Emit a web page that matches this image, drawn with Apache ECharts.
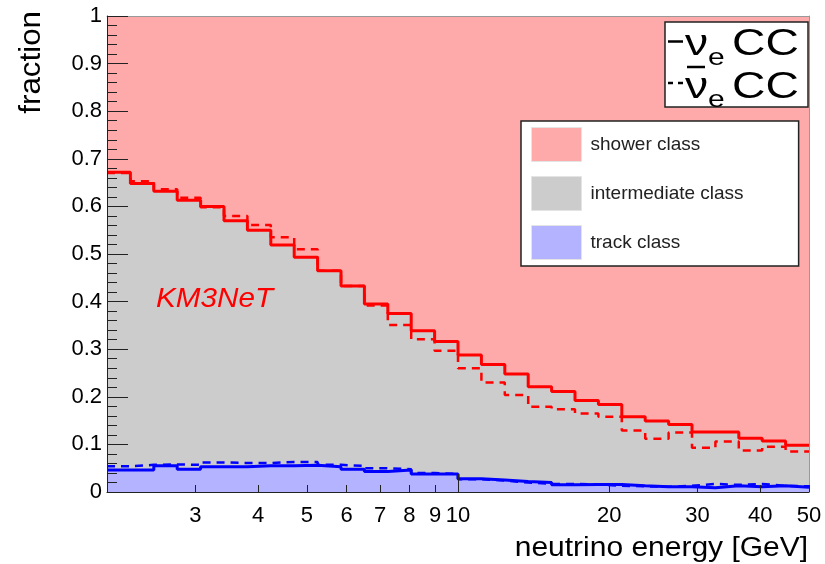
<!DOCTYPE html>
<html><head><meta charset="utf-8">
<script src="https://cdn.jsdelivr.net/npm/echarts@6/dist/echarts.min.js"></script>
<style>html,body{margin:0;padding:0;background:#fff}#c{width:825px;height:564px}</style>
</head><body><div id="c"></div>
<script>
// ---- data (30 log-spaced energy bins from 2 to 50 GeV) ----
const E_MIN = 2, E_MAX = 50, N_BINS = 30;
// nu_e CC: upper edge of intermediate class (= track + intermediate fraction)
const nueTop = [0.672, 0.648, 0.632, 0.613, 0.600, 0.570, 0.550, 0.519, 0.493, 0.465,
                0.433, 0.395, 0.375, 0.339, 0.316, 0.288, 0.268, 0.248, 0.221, 0.211,
                0.192, 0.184, 0.158, 0.149, 0.142, 0.126, 0.126, 0.113, 0.107, 0.098];
// anti-nu_e CC: same quantity (dashed)
const nuebarTop = [0.670, 0.653, 0.636, 0.618, 0.598, 0.580, 0.561, 0.535, 0.510, 0.465,
                   0.433, 0.392, 0.351, 0.321, 0.297, 0.260, 0.230, 0.204, 0.179, 0.174,
                   0.165, 0.158, 0.129, 0.112, 0.125, 0.093, 0.106, 0.087, 0.095, 0.085];
// nu_e CC: track class fraction
const nueTrack = [0.046, 0.046, 0.055, 0.048, 0.053, 0.053, 0.055, 0.055, 0.056, 0.053,
                  0.048, 0.043, 0.046, 0.038, 0.038, 0.028, 0.025, 0.022, 0.020, 0.015,
                  0.016, 0.016, 0.013, 0.011, 0.011, 0.009, 0.013, 0.011, 0.013, 0.010];
// anti-nu_e CC: track class fraction (dashed)
const nuebarTrack = [0.054, 0.057, 0.058, 0.057, 0.062, 0.061, 0.061, 0.063, 0.063, 0.057,
                     0.055, 0.050, 0.048, 0.040, 0.038, 0.027, 0.024, 0.020, 0.017, 0.017,
                     0.016, 0.013, 0.012, 0.011, 0.013, 0.017, 0.015, 0.017, 0.013, 0.012];
const xTickLabels = [3, 4, 5, 6, 7, 8, 9, 10, 20, 30, 40, 50];
const xTicksShort = [3, 4, 5, 6, 7, 8, 9, 20, 30, 40, 50];
const xTicksLong = [10];
const classNames = ['shower class', 'intermediate class', 'track class'];
const classColors = ['#ffaaaa', '#cccccc', '#b3b3ff'];

// ---- build ----
const lg = Math.log10;
const edges = [];
for (let i = 0; i <= N_BINS; i++) edges.push(lg(E_MIN) + i * (lg(E_MAX) - lg(E_MIN)) / N_BINS);
function hist(vals) {
  const d = vals.map((v, i) => [edges[i], v]);
  d.push([edges[N_BINS], vals[N_BINS - 1]]);
  return d;
}

const FONT = 'Liberation Sans, Arial, sans-serif';
const base = { type: 'line', step: 'end', symbol: 'none', silent: true, emphasis: { disabled: true } };

function txt(text, x, y, size, extra) {
  return Object.assign({
    type: 'text', x: x, y: y, z: 100,
    style: Object.assign({ text: text, fontSize: size, fontFamily: FONT, fill: '#000',
      align: 'left', verticalAlign: 'middle', textAlign: 'left', textVerticalAlign: 'middle' }, extra && extra.style)
  }, extra && extra.el);
}
function seg(x1, x2, y) {
  return { type: 'line', z: 100, shape: { x1: x1, y1: y, x2: x2, y2: y }, style: { stroke: '#000', lineWidth: 2.5 } };
}
const SX = 1.25;

const chart = echarts.init(document.getElementById('c'), null, { renderer: 'canvas' });
chart.setOption({
  animation: false,
  textStyle: { fontFamily: FONT },
  grid: { left: 107, right: 16, top: 16, bottom: 72, show: true, backgroundColor: classColors[0], borderWidth: 0 },
  xAxis: [
    { type: 'value', min: lg(E_MIN), max: lg(E_MAX), position: 'bottom', z: 10,
      axisLine: { show: true, onZero: false, lineStyle: { color: '#222', width: 1 } },
      axisTick: { show: true, inside: true, length: 7, customValues: xTicksShort.map(lg), lineStyle: { color: '#222' } },
      axisLabel: { show: true, customValues: xTickLabels.map(lg), fontSize: 22, color: '#000', margin: 13,
                   formatter: v => String(Math.round(Math.pow(10, v))) },
      splitLine: { show: false } },
    { type: 'value', min: lg(E_MIN), max: lg(E_MAX), position: 'bottom', z: 10,
      axisLine: { show: false, onZero: false },
      axisTick: { show: true, inside: true, length: 18, customValues: xTicksLong.map(lg), lineStyle: { color: '#222' } },
      axisLabel: { show: false }, splitLine: { show: false } },
    { type: 'value', min: lg(E_MIN), max: lg(E_MAX), position: 'top', z: 10,
      axisLine: { show: true, onZero: false, lineStyle: { color: '#999', width: 1 } },
      axisTick: { show: false }, axisLabel: { show: false }, splitLine: { show: false } }
  ],
  yAxis: [
    { type: 'value', min: 0, max: 1, interval: 0.1, position: 'left', z: 10,
      axisLine: { show: true, onZero: false, lineStyle: { color: '#222', width: 1 } },
      axisTick: { show: true, inside: true, length: 21, lineStyle: { color: '#222' } },
      minorTick: { show: true, splitNumber: 5, length: 10, lineStyle: { color: '#222' } },
      axisLabel: { fontSize: 22, color: '#000', margin: 5, formatter: v => String(Math.round(v * 10) / 10) },
      splitLine: { show: false } },
    { type: 'value', min: 0, max: 1, position: 'right', z: 10,
      axisLine: { show: true, onZero: false, lineStyle: { color: '#999', width: 1 } },
      axisTick: { show: false }, axisLabel: { show: false }, splitLine: { show: false } }
  ],
  legend: {
    show: true, orient: 'vertical', left: 521, top: 121, selectedMode: false,
    icon: 'rect', itemWidth: 50, itemHeight: 34, itemGap: 14,
    padding: [6, 55, 6, 10],
    backgroundColor: '#fff', borderColor: '#222', borderWidth: 1.5,
    textStyle: { fontSize: 19, color: '#222', fontFamily: FONT, padding: [0, 0, 0, 4] },
    data: classNames.map((n, i) => ({ name: n, itemStyle: { color: classColors[i], borderColor: '#e4e4e4', borderWidth: 1 } }))
  },
  series: [
    Object.assign({}, base, { name: classNames[0], data: [], itemStyle: { color: classColors[0] } }),
    Object.assign({}, base, { name: classNames[1], data: hist(nueTop), z: 3,
      lineStyle: { color: '#ff0000', width: 3 }, areaStyle: { color: classColors[1], opacity: 1 }, itemStyle: { color: classColors[1] } }),
    Object.assign({}, base, { name: classNames[2], data: hist(nueTrack), z: 4,
      lineStyle: { color: '#0000ff', width: 3 }, areaStyle: { color: classColors[2], opacity: 1 }, itemStyle: { color: classColors[2] } }),
    Object.assign({}, base, { name: 'anti-nu_e CC top', data: hist(nuebarTop), z: 5,
      lineStyle: { color: '#ff0000', width: 2.5, type: [8, 6] } }),
    Object.assign({}, base, { name: 'anti-nu_e CC track', data: hist(nuebarTrack), z: 5,
      lineStyle: { color: '#0000ff', width: 2.5, type: [8, 6] } })
  ],
  graphic: [
    { type: 'rect', z: 99, shape: { x: 665, y: 22, width: 143, height: 85 },
      style: { fill: '#fff', stroke: '#222', lineWidth: 1.5 } },
    seg(668, 683, 41.5),
    txt('\u03bd', 685, 45, 37, { el: { scaleX: SX } }),
    txt('e', 708, 58, 24, { el: { scaleX: SX } }),
    txt('CC', 732, 45, 37, { el: { scaleX: SX } }),
    seg(668, 673, 83), seg(678, 683, 83),
    txt('\u03bd', 685, 87.5, 37, { el: { scaleX: SX } }),
    seg(687, 705, 67),
    txt('e', 708, 100.5, 24, { el: { scaleX: SX } }),
    txt('CC', 732, 87.5, 37, { el: { scaleX: SX } }),
    txt('KM3NeT', 156, 299.3, 27, { style: { fill: '#ff0000', fontStyle: 'italic' }, el: { scaleX: 1.1 } }),
    txt('neutrino energy [GeV]', 808, 548.6, 27, { style: { align: 'right', textAlign: 'right' }, el: { scaleX: 1.11 } }),
    txt('fraction', 31.7, 11, 29, { style: { align: 'right', textAlign: 'right' }, el: { rotation: Math.PI / 2, scaleX: 1.08 } })
  ]
});
</script></body></html>
